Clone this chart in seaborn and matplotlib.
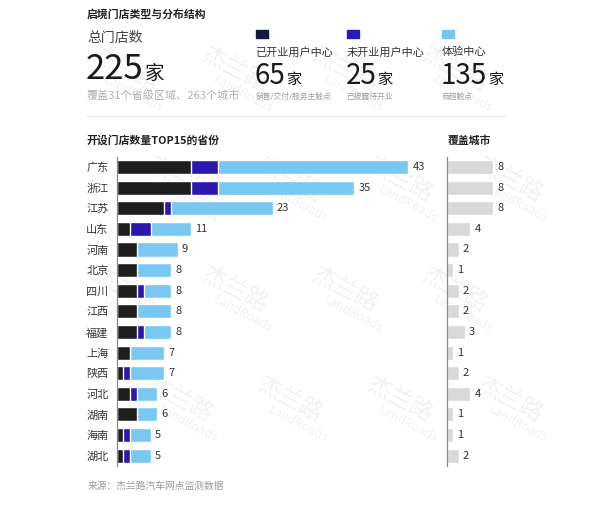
import numpy as np
import pandas as pd
import matplotlib
matplotlib.use("Agg")
import matplotlib.pyplot as plt
import seaborn as sns

# dados
provinces = ["广东", "浙江", "江苏", "山东", "河南", "北京", "四川", "江西",
             "福建", "上海", "陕西", "河北", "湖南", "海南", "湖北"]
opened = [11, 11, 7, 2, 3, 3, 3, 3, 3, 2, 1, 2, 3, 1, 1]      # 已开业用户中心
unopened = [4, 4, 1, 3, 0, 0, 1, 0, 1, 0, 1, 1, 0, 1, 1]      # 未开业用户中心
experience = [28, 20, 15, 6, 6, 5, 4, 5, 4, 5, 5, 3, 3, 3, 3]  # 体验中心
cities = [8, 8, 8, 4, 2, 1, 2, 2, 3, 1, 2, 4, 1, 1, 2]        # 覆盖城市

total_stores = 225
kpi_names = ["已开业用户中心", "未开业用户中心", "体验中心"]
kpi_values = [65, 25, 135]
kpi_notes = ["销售/交付/服务主触点", "已披露待开业", "商超触点"]

C_DARK = "#1e1e1e"
C_PURPLE = "#2a18b0"
C_LIGHT = "#78c8f2"
C_GRAY = "#d9d9d9"
legend_colors = ["#0f1a3d", "#2b1bb5", "#74c5f2"]

df = pd.DataFrame({"Province": provinces, "Opened": opened,
                   "Unopened": unopened, "Experience": experience,
                   "Cities": cities})
df["Dark"] = df["Opened"]
df["DarkPurple"] = df["Opened"] + df["Unopened"]
df["Total"] = df["DarkPurple"] + df["Experience"]

sns.set_style("white")
plt.rcParams["font.family"] = ["Noto Sans CJK SC", "DejaVu Sans"]

W, H = 600, 508
fig = plt.figure(figsize=(W / 100, H / 100), dpi=100)
fig.patch.set_facecolor("white")

def fx(x):
    return x / W

def fy(y):
    return 1 - y / H

# marca d'água (num eixo de fundo, atrás de tudo)
bg = fig.add_axes([0, 0, 1, 1], zorder=-5)
bg.set_xlim(0, W)
bg.set_ylim(H, 0)
bg.axis("off")
for j, yy in enumerate([70, 180, 290, 400]):
    off = 0 if j % 2 == 0 else 55
    for xx in [150, 260, 370, 480]:
        cx = xx + off - 25
        if cx > 540:
            continue
        bg.text(cx, yy, "杰兰路", fontsize=17, color="#f2f2f2",
                rotation=-28, ha="center", va="center")
        bg.text(cx + 8, yy + 24, "LandRoads", fontsize=9, color="#f2f2f2",
                rotation=-28, ha="center", va="center")

# cabeçalho
fig.text(fx(87), fy(14), "启境门店类型与分布结构", fontsize=7.8, fontweight="bold",
         color="#222222", va="center")
fig.text(fx(87), fy(38), "总门店数", fontsize=10, color="#444444", va="center")
fig.text(fx(86), fy(79), str(total_stores), fontsize=25, color="#1a1a1a",
         va="baseline", fontweight="medium")
fig.text(fx(145), fy(79), "家", fontsize=14, color="#1a1a1a", va="baseline")
fig.text(fx(87), fy(95), "覆盖31个省级区域、263个城市", fontsize=8, color="#b0b0b0",
         va="center")

col_x = [255.7, 346.7, 441.7]
digit_w = 15.3
for x0, name, val, note, col in zip(col_x, kpi_names, kpi_values, kpi_notes, legend_colors):
    fig.patches.append(plt.Rectangle((fx(x0), fy(37.5)), 12.7 / W, 8 / H,
                                     transform=fig.transFigure, color=col,
                                     figure=fig))
    fig.text(fx(x0), fy(52), name, fontsize=8, color="#333333", va="center")
    fig.text(fx(x0 - 1), fy(84), str(val), fontsize=20, color="#1a1a1a",
             va="baseline", fontweight="medium")
    fig.text(fx(x0 + len(str(val)) * digit_w), fy(84), "家", fontsize=11,
             color="#1a1a1a", va="baseline")
    fig.text(fx(x0), fy(97), note, fontsize=5.6, color="#a0a0a0", va="center")

# linha divisória
fig.add_artist(plt.Line2D([fx(87), fx(505)], [fy(116), fy(116)],
                          color="#e6e6e6", lw=0.8, transform=fig.transFigure))

fig.text(fx(87), fy(140), "开设门店数量TOP15的省份", fontsize=7.8, fontweight="bold",
         color="#222222", va="center")
fig.text(fx(448), fy(140), "覆盖城市", fontsize=7.8, fontweight="bold",
         color="#222222", va="center")

# gráfico principal (barras empilhadas sobrepostas)
ax_top, ax_bot = 156.7, 466.0
ax = fig.add_axes([fx(116.7), fy(ax_bot), (430 - 116.7) / W, (ax_bot - ax_top) / H])
ax.patch.set_alpha(0)
sns.barplot(data=df, x="Total", y="Province", color=C_LIGHT, width=0.68,
            orient="h", ax=ax, saturation=1)
sns.barplot(data=df, x="DarkPurple", y="Province", color=C_PURPLE, width=0.68,
            orient="h", ax=ax, saturation=1)
sns.barplot(data=df, x="Dark", y="Province", color=C_DARK, width=0.68,
            orient="h", ax=ax, saturation=1)
ax.bar_label(ax.containers[0], labels=[str(v) for v in df["Total"]], padding=3,
             fontsize=8, color="#333333")
ax.set_xlim(0, (430 - 116.7) / 6.78)
ax.set_ylim(len(provinces) - 0.5, -0.5)
ax.set_xlabel("")
ax.set_ylabel("")
ax.set_xticks([])
ax.tick_params(axis="y", length=0, pad=6, labelsize=8, labelcolor="#333333")
for s in ["top", "right", "bottom"]:
    ax.spines[s].set_visible(False)
ax.spines["left"].set_color("#8a8a8a")
ax.spines["left"].set_linewidth(0.9)

# gráfico de cidades cobertas
ax2 = fig.add_axes([fx(447.3), fy(ax_bot), (510 - 447.3) / W, (ax_bot - ax_top) / H])
ax2.patch.set_alpha(0)
sns.barplot(data=df, x="Cities", y="Province", color=C_GRAY, width=0.68,
            orient="h", ax=ax2, saturation=1)
ax2.bar_label(ax2.containers[0], padding=3, fontsize=8, color="#333333")
ax2.set_xlim(0, (510 - 447.3) / 5.75)
ax2.set_ylim(len(provinces) - 0.5, -0.5)
ax2.set_xlabel("")
ax2.set_ylabel("")
ax2.set_xticks([])
ax2.set_yticks([])
for s in ["top", "right", "bottom"]:
    ax2.spines[s].set_visible(False)
ax2.spines["left"].set_color("#8a8a8a")
ax2.spines["left"].set_linewidth(0.9)

fig.text(fx(88), fy(486), "来源：杰兰路汽车网点监测数据", fontsize=7, color="#9a9a9a",
         va="center")

fig.savefig("out.png", dpi=100, facecolor="white")
